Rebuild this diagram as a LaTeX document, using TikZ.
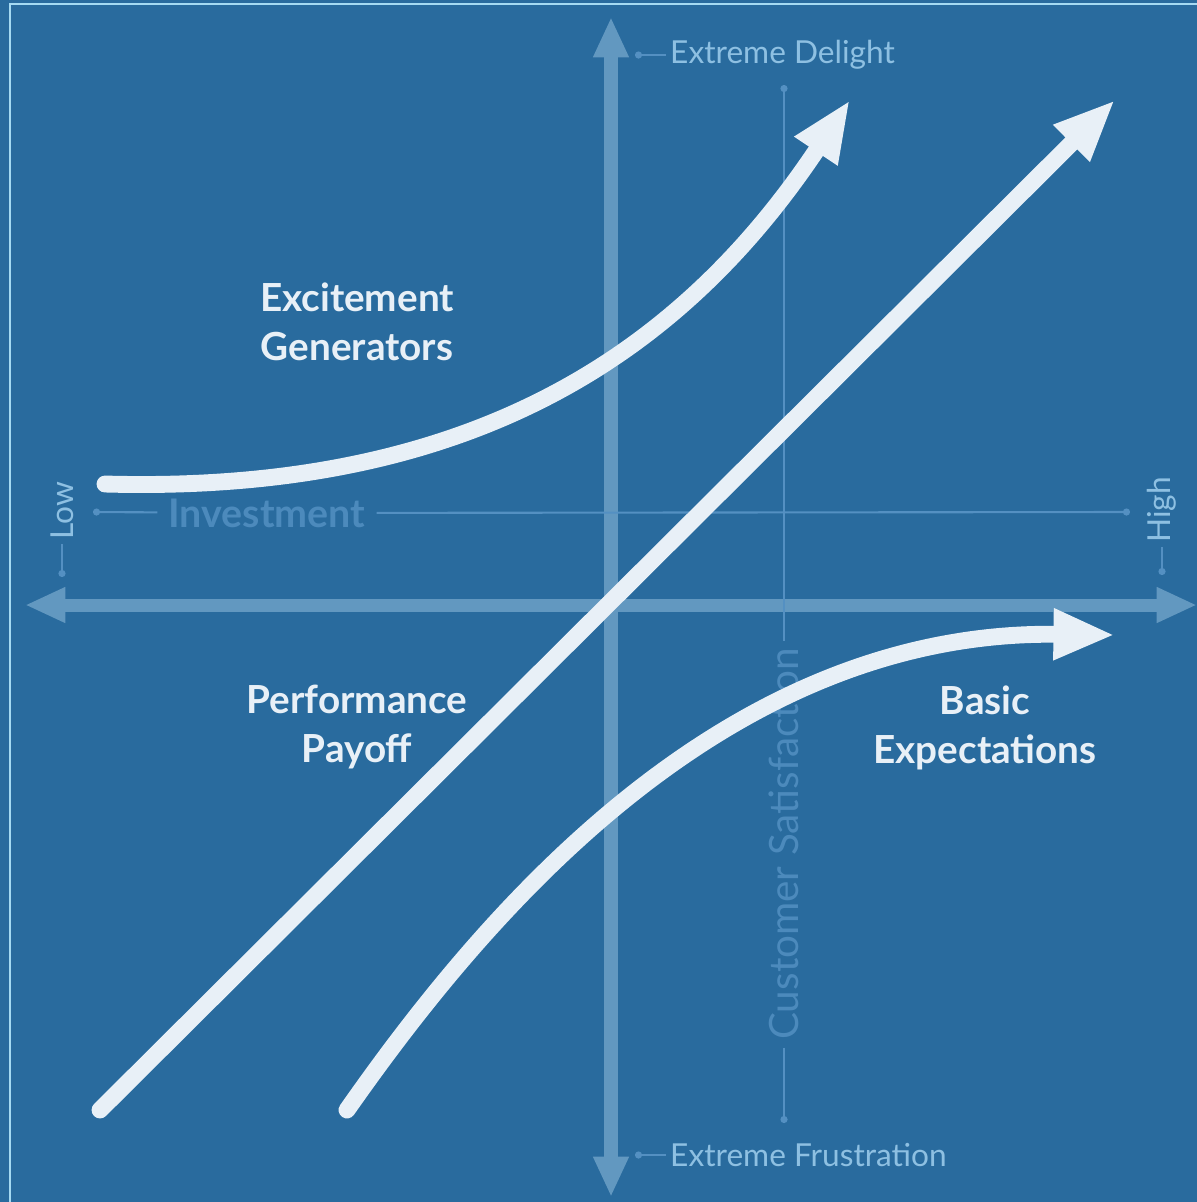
\documentclass[tikz,border=0pt]{standalone}
\usepackage{fontspec}
\setmainfont{Lato}
\usetikzlibrary{arrows.meta}

\definecolor{bgblue}{RGB}{41,107,158}
\definecolor{curvewhite}{RGB}{232,240,247}
\definecolor{axisblue}{RGB}{98,152,192}
\definecolor{thinblue}{RGB}{84,144,194}
\definecolor{lightlabel}{RGB}{142,192,226}
\definecolor{faintlabel}{RGB}{76,138,188}
\definecolor{rimblue}{RGB}{165,218,242}

\begin{document}
\begin{tikzpicture}[x=0.01cm, y=-0.01cm,
	curve/.style={line width=4.8pt, curvewhite, line cap=round, -{Triangle[length=17.5pt,width=13.5pt]}},
	axis/.style={line width=3.7pt, axisblue, {Triangle[length=11.5pt,width=9.4pt]}-{Triangle[length=11.5pt,width=9.4pt]}},
	guide/.style={line width=0.6pt, thinblue},
	dotend/.style={guide, -{Circle[length=2pt]}},
	big/.style={text=curvewhite, font=\fontsize{11}{14}\selectfont\bfseries, align=center},
	small/.style={text=lightlabel, font=\fontsize{9}{10}\selectfont, inner sep=1pt}]
	
	\useasboundingbox (0,0) rectangle (1197,1202);
	\fill[bgblue] (0,0) rectangle (1197,1202);
	\draw[rimblue, line width=0.6pt] (10,1202) -- (10,4) -- (1197,4);
	
	% axes
	\coordinate (xlo) at (25,605);
	\coordinate (xhi) at (1197,605);
	\coordinate (ytop) at (611,17);
	\coordinate (ybot) at (611,1197);
	\path[axis] (xlo) edge (xhi);
	\path[axis] (ytop) edge (ybot);
	
	% guide lines
	\node[text=faintlabel, font=\fontsize{11.2}{12}\selectfont\bfseries, inner sep=3pt] (inv) at (267,513) {Investment};
	\coordinate (invL) at (93,512);
	\coordinate (invR) at (1130,512);
	\path[dotend] (inv) edge (invL);
	\path[dotend] (inv) edge (invR);
	
	\node[text=faintlabel, font=\fontsize{11.5}{14}\selectfont, rotate=90, inner sep=2pt] (cs) at (784,844) {Customer Satisfaction};
	\coordinate (csT) at (784,85);
	\coordinate (csB) at (784,1123);
	\path[dotend] (cs) edge (csT);
	\path[dotend] (cs) edge (csB);
	
	\node[small, rotate=90] (low) at (62,511) {Low};
	\coordinate (lowD) at (62,577);
	\path[dotend] (low) edge (lowD);
	\node[small, rotate=90] (high) at (1162,510) {High};
	\coordinate (highD) at (1162,575);
	\path[dotend] (high) edge (highD);
	
	\node[small, anchor=west] (del) at (666,55) {Extreme Delight};
	\coordinate (delD) at (635,55);
	\path[dotend] (del) edge (delD);
	\node[small, anchor=west] (fru) at (666,1155) {Extreme Frustration};
	\coordinate (fruD) at (635,1155);
	\path[dotend] (fru) edge (fruD);
	
	% curves
	\coordinate (exS) at (105,484);
	\coordinate (exE) at (850,100);
	\coordinate (peS) at (100,1110);
	\coordinate (peE) at (1115,100);
	\coordinate (baS) at (347,1110);
	\coordinate (baE) at (1115,635);
	\draw[curve] (exS) .. controls (470,494) and (680,355) .. (exE);
	\draw[curve] (peS) -- (peE);
	\draw[curve] (baS) .. controls (480,920) and (720,630) .. (baE);
	
	\node[big] (exc) at (357,322) {Excitement\\Generators};
	\node[big] (perf) at (357,727) {Performance\\Payoff};
	\node[big] (basic) at (985,728) {Basic\\Expectations};
	
\end{tikzpicture}
\end{document}
